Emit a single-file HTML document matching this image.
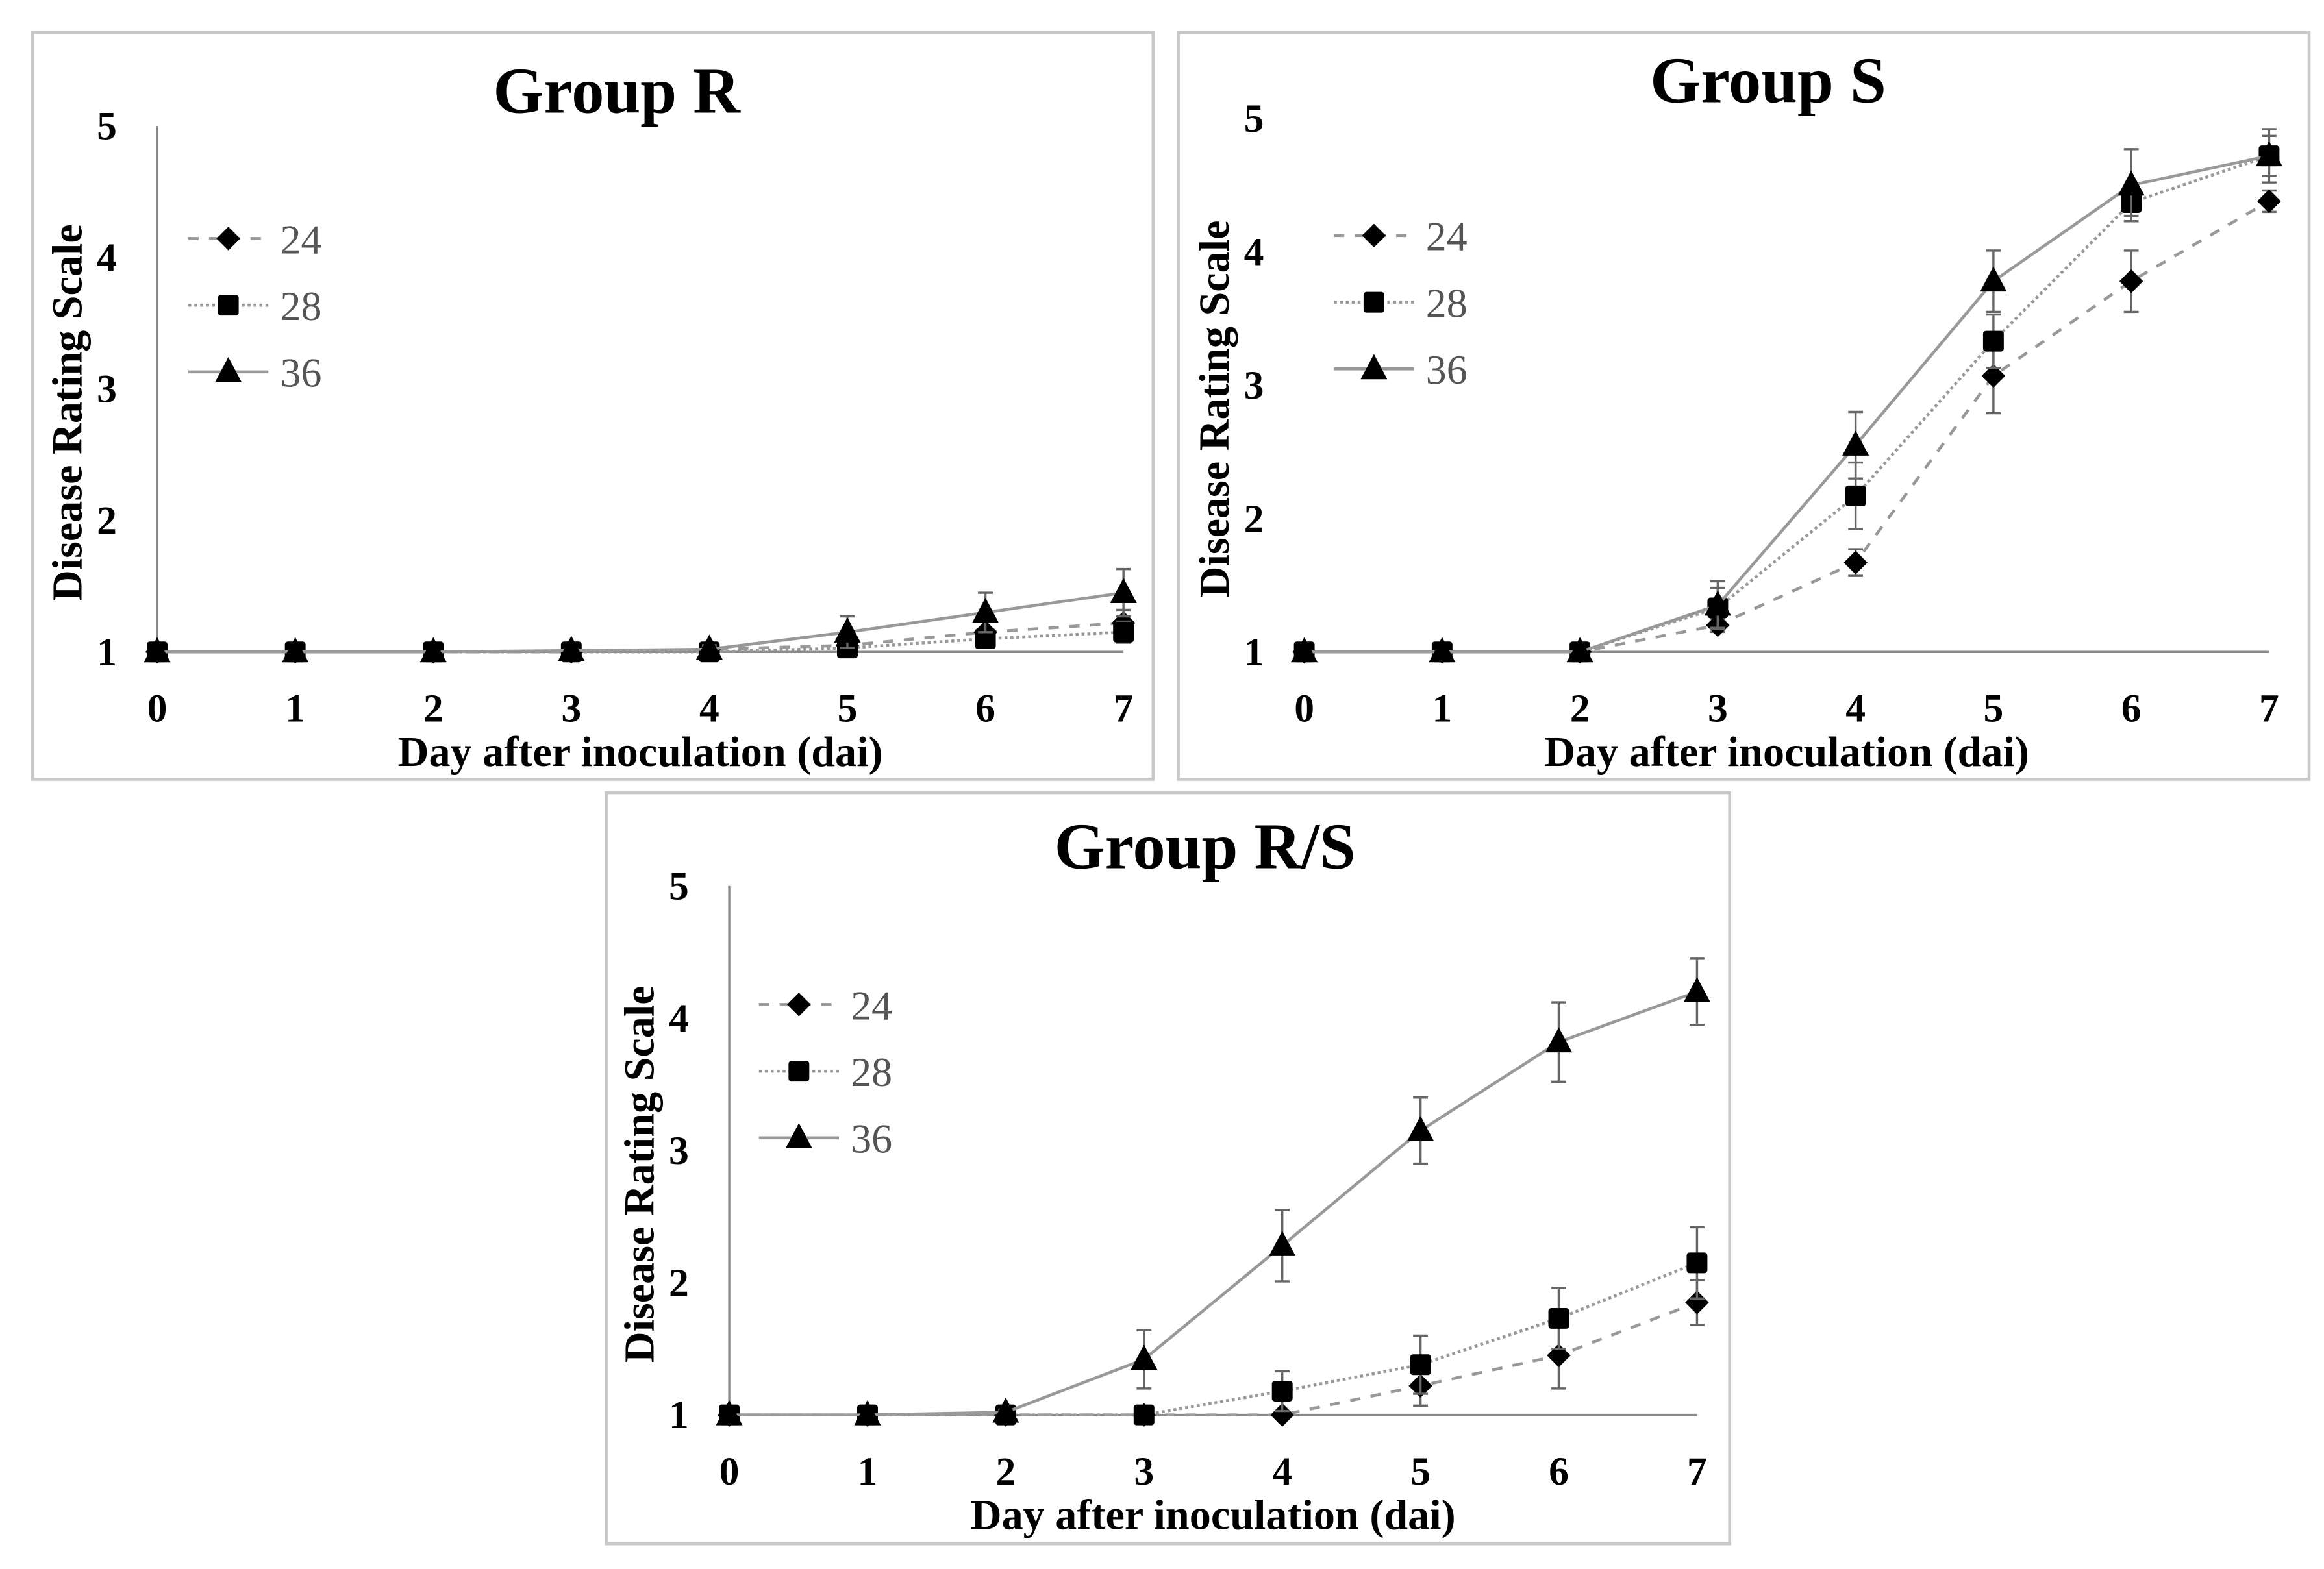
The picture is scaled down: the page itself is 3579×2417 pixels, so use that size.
<!DOCTYPE html>
<html><head><meta charset="utf-8"><style>
html,body{margin:0;padding:0;background:#fff;}
svg{display:block;}
text{font-family:"Liberation Serif",serif;}
</style></head><body>
<svg id="chart" width="3579" height="2417" viewBox="0 0 1568 1059" xmlns="http://www.w3.org/2000/svg"></svg>
<script>
const days = [0,1,2,3,4,5,6,7];
const seriesNames = ["24","28","36"];
const rValues24 = [1,1,1,1,1.02,1.05,1.15,1.22];
const rValues28 = [1,1,1,1,1,1.03,1.1,1.15];
const rValues36 = [1,1,1,1.01,1.02,1.15,1.3,1.45];
const rErr24 = [0,0,0,0,0.02,0.05,0.08,0.1];
const rErr28 = [0,0,0,0,0,0.03,0.07,0.08];
const rErr36 = [0,0,0,0.01,0.03,0.12,0.15,0.18];
const sValues24 = [1,1,1,1.2,1.67,3.07,3.78,4.38];
const sValues28 = [1,1,1,1.33,2.17,3.33,4.37,4.72];
const sValues36 = [1,1,1,1.35,2.55,3.78,4.5,4.72];
const sErr24 = [0,0,0,0.05,0.1,0.28,0.23,0.08];
const sErr28 = [0,0,0,0.15,0.25,0.2,0.1,0.15];
const sErr36 = [0,0,0,0.18,0.25,0.23,0.27,0.2];
const rsValues24 = [1,1,1,1,1,1.22,1.45,1.85];
const rsValues28 = [1,1,1,1,1.18,1.38,1.73,2.15];
const rsValues36 = [1,1,1.02,1.42,2.28,3.15,3.82,4.2];
const rsErr24 = [0,0,0,0,0,0.15,0.25,0.17];
const rsErr28 = [0,0,0,0,0.15,0.22,0.23,0.27];
const rsErr36 = [0,0,0.02,0.22,0.27,0.25,0.3,0.25];
const yTicks = [1,2,3,4,5];

const NS="http://www.w3.org/2000/svg";
const svg=document.getElementById('chart');
function mk(tag,attrs,parent){const e=document.createElementNS(NS,tag);for(const k in attrs)e.setAttribute(k,attrs[k]);(parent||svg).appendChild(e);return e;}

const panels=[
 {key:'r',title:'Group R',box:[22,22,756,504],x0:106,x7:758,y1:440,y5:85,titleX:416,titleY:76,vaxis:true,leg:[127,161],ylabX:46,yt:[rValues24,rValues28,rValues36],er:[rErr24,rErr28,rErr36]},
 {key:'s',title:'Group S',box:[795,22,763,504],x0:880,x7:1531,y1:440,y5:80,titleX:1193,titleY:69,vaxis:false,leg:[900,159],ylabX:820,yt:[sValues24,sValues28,sValues36],er:[sErr24,sErr28,sErr36]},
 {key:'rs',title:'Group R/S',box:[409,535,758,507],x0:492,x7:1145,y1:955,y5:598,titleX:813,titleY:586,vaxis:true,leg:[512,678],ylabX:432,yt:[rsValues24,rsValues28,rsValues36],er:[rsErr24,rsErr28,rsErr36]}
];
const dashes=['7,7','2,2',''];
const mcolor='#000', lcolor='#999';

function marker(g,kind,x,y){
  let m;
  if(kind===0) m=mk('polygon',{points:`${x},${y-8} ${x+8},${y} ${x},${y+8} ${x-8},${y}`,fill:mcolor},g);
  else if(kind===1) m=mk('rect',{x:x-7,y:y-7,width:14,height:14,rx:2,fill:mcolor},g);
  else m=mk('polygon',{points:`${x},${y-10} ${x+9},${y+7} ${x-9},${y+7}`,fill:mcolor},g);
  return m;
}

panels.forEach(p=>{
  const g=mk('g',{});
  
  
  const xs=d=>p.x0+(p.x7-p.x0)*d/7;
  const ys=v=>p.y1-(p.y1-p.y5)*(v-1)/4;
  const bx=mk('rect',{x:p.box[0],y:p.box[1],width:p.box[2],height:p.box[3],fill:'#fff',stroke:'#c8c8c8','stroke-width':2},g);
  
  
  const t=mk('text',{x:p.titleX,y:p.titleY,'text-anchor':'middle','font-size':44,'font-weight':'bold'},g);t.textContent=p.title;
  
  
  const xa=mk('line',{x1:p.x0,y1:p.y1,x2:p.x7,y2:p.y1,stroke:'#888','stroke-width':1.5},g);
  
  
  if(p.vaxis){const va=mk('line',{x1:p.x0,y1:p.y5,x2:p.x0,y2:p.y1,stroke:'#888','stroke-width':1.5},g);
    
    }
  yTicks.forEach(v=>{const tt=mk('text',{x:p.x0-34,y:ys(v)+9,'text-anchor':'middle','font-size':27,'font-weight':'bold'},g);tt.textContent=v;
    
    });
  days.forEach(d=>{const tt=mk('text',{x:xs(d),y:p.y1+47,'text-anchor':'middle','font-size':27,'font-weight':'bold'},g);tt.textContent=d;
    
    });
  const xt=mk('text',{x:(p.x0+p.x7)/2,y:p.y1+77,'text-anchor':'middle','font-size':29,'font-weight':'bold'},g);xt.textContent='Day after inoculation (dai)';
  
  
  const ymid=(p.y1+p.y5)/2+16;
  const yt=mk('text',{x:p.ylabX,y:ymid,'text-anchor':'middle','font-size':29,'font-weight':'bold',transform:`rotate(-90 ${p.ylabX} ${ymid})`,dy:9},g);yt.textContent='Disease Rating Scale';
  
  
  p.yt.forEach((vals,si)=>{
    const sg=mk('g',{},g);
    
    
    const pts=vals.map((v,i)=>xs(days[i])+','+ys(v)).join(' ');
    const attrs={points:pts,fill:'none',stroke:lcolor,'stroke-width':2};
    if(dashes[si])attrs['stroke-dasharray']=dashes[si];
    mk('polyline',attrs,sg);
    vals.forEach((v,i)=>{
      const e=p.er[si][i];
      if(e>0){const x=xs(days[i]);
        mk('path',{d:`M${x},${ys(v-e)}V${ys(v+e)}M${x-5},${ys(v+e)}H${x+5}M${x-5},${ys(v-e)}H${x+5}`,stroke:'#666','stroke-width':1.5,fill:'none'},sg);}
      const m=marker(sg,si,xs(days[i]),ys(v));
      
      
    });
  });
  seriesNames.forEach((n,si)=>{
    const lg=mk('g',{},g);
    
    
    const ly=p.leg[1]+si*45;
    const a={x1:p.leg[0],y1:ly,x2:p.leg[0]+54,y2:ly,stroke:lcolor,'stroke-width':2};
    if(dashes[si])a['stroke-dasharray']=dashes[si];
    mk('line',a,lg);
    marker(lg,si,p.leg[0]+27,ly);
    const tx=mk('text',{x:p.leg[0]+62,y:ly+10,'font-size':28,fill:'#555'},lg);tx.textContent=n;
  });
});
</script>
</body></html>
